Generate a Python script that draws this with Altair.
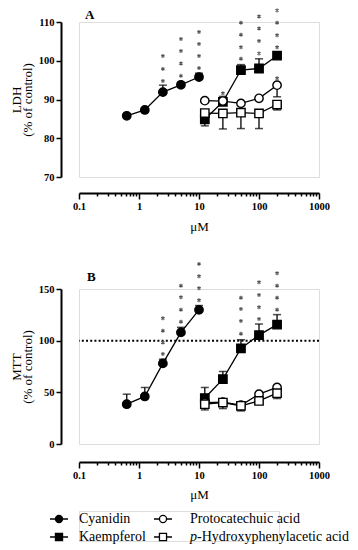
import altair as alt
import pandas as pd

SERIF = "Liberation Serif"

# ---------------- data ----------------
series_names = ["Cyanidin", "Kaempferol", "Protocatechuic acid", "p-Hydroxyphenylacetic acid"]
conc_cy = [0.625, 1.25, 2.5, 5, 10]
conc_ot = [12.5, 25, 50, 100, 200]

# Panel A: LDH (% of control) -- mean and signed SEM (sign = direction drawn)
ldh_cy = [85.8, 87.3, 91.9, 93.8, 95.8]
ldh_cy_err = [0, 0, 1.8, 0.6, 1.0]
ldh_ka = [84.9, 89.4, 97.6, 98.0, 101.3]
ldh_ka_err = [-1.7, 1.4, 1.4, 2.5, 0]
ldh_pc = [89.7, 89.6, 89.0, 90.3, 93.7]
ldh_pc_err = [0, 0, 0, 0, -3.0]
ldh_ph = [86.5, 86.4, 86.6, 86.4, 88.7]
ldh_ph_err = [-2.0, -4.0, -4.1, -3.9, -1.4]

# Panel B: MTT (% of control)
mtt_cy = [38.5, 46.0, 78.0, 108.0, 129.8]
mtt_cy_err = [9.7, 8.7, 4.0, 4.9, 4.2]
mtt_ka = [44.5, 62.8, 92.5, 105.4, 115.5]
mtt_ka_err = [10.2, 7.4, 8.4, 10.7, 9.7]
mtt_pc = [40.1, 40.5, 37.5, 48.2, 54.7]
mtt_pc_err = [0, 0, 0, 0, 0]
mtt_ph = [38.5, 40.1, 37.0, 41.7, 49.2]
mtt_ph_err = [-5.5, -5.8, -5.0, -3.2, -5.2]

# significance asterisks (concentration, y-position in axis units)
stars_a_conc = [2.5, 2.5, 2.5, 5, 5, 5, 5, 10, 10, 10, 10, 25,
                50, 50, 50, 50, 100, 100, 100, 100, 200, 200, 200, 200, 200]
stars_a_y = [94.8, 97.9, 101.2, 96.1, 99.3, 102.5, 105.6, 98.1, 101.2, 104.3, 107.4, 91.6,
             100.5, 103.5, 106.7, 109.8, 101.9, 105.1, 108.3, 111.4, 103.5, 106.6, 109.8, 113.0, 95.5]
stars_b_conc = [2.5, 2.5, 2.5, 2.5, 5, 5, 5, 5, 10, 10, 10, 10,
                50, 50, 50, 50, 100, 100, 100, 100, 200, 200, 200, 200]
stars_b_y = [87.0, 98.3, 109.6, 121.7, 118.3, 130.0, 142.0, 153.2, 139.1, 150.7, 162.4, 174.3,
             106.7, 119.0, 130.6, 141.6, 121.0, 132.3, 144.2, 156.5, 130.0, 141.6, 153.2, 165.3]

x_major = [0.1, 1, 10, 100, 1000]
ldh_ticks = [70, 80, 90, 100, 110]
mtt_ticks = [0, 50, 100, 150]
reference_line = [100]


def build_df(groups):
    rows = []
    for name, concs, vals, errs in groups:
        for c, v, e in zip(concs, vals, errs):
            rows.append({"series": name, "conc": c, "val": v, "err": e, "end": v + e})
    return pd.DataFrame(rows)


df_a = build_df([
    (series_names[0], conc_cy, ldh_cy, ldh_cy_err),
    (series_names[1], conc_ot, ldh_ka, ldh_ka_err),
    (series_names[2], conc_ot, ldh_pc, ldh_pc_err),
    (series_names[3], conc_ot, ldh_ph, ldh_ph_err),
])
df_b = build_df([
    (series_names[0], conc_cy, mtt_cy, mtt_cy_err),
    (series_names[1], conc_ot, mtt_ka, mtt_ka_err),
    (series_names[2], conc_ot, mtt_pc, mtt_pc_err),
    (series_names[3], conc_ot, mtt_ph, mtt_ph_err),
])
stars_a = pd.DataFrame({"conc": stars_a_conc, "y": stars_a_y})
stars_b = pd.DataFrame({"conc": stars_b_conc, "y": stars_b_y})

# ---------------- styling helpers ----------------
x_tick_values = []
for d in [0.1, 1, 10, 100]:
    for m in range(1, 10):
        x_tick_values.append(round(d * m, 6))
x_tick_values.append(1000)
major_test = " || ".join(f"datum.value == {v}" for v in x_major)

ASTERISK = "M0,-1L0,1M-0.87,-0.5L0.87,0.5M-0.87,0.5L0.87,-0.5"


def x_enc(offset, tpad):
    return alt.X(
        "conc:Q",
        scale=alt.Scale(type="log", domain=[0.1, 1000], nice=False),
        axis=alt.Axis(
            values=x_tick_values,
            labelExpr=f"({major_test}) ? format(datum.value, '~g') : ''",
            tickSize={"condition": {"test": major_test, "value": 6}, "value": 3},
            offset=offset, domainWidth=2, tickWidth=1.5,
            domainColor="black", tickColor="black",
            labelFont=SERIF, labelFontSize=10.5, labelFontWeight="bold", labelColor="black",
            labelFlush=False, labelOverlap=False, labelPadding=2,
            title="μM", titleFont=SERIF, titleFontSize=13, titleFontWeight="normal",
            titleColor="black", titlePadding=tpad, grid=False,
        ),
    )


def y_axis(values, title):
    return alt.Axis(
        values=values, offset=18, tickSize=5, domainWidth=2, tickWidth=1.5,
        domainColor="black", tickColor="black",
        labelFont=SERIF, labelFontSize=10.5, labelFontWeight="bold", labelColor="black",
        labelPadding=2, labelOverlap=False, title=title, titleFont=SERIF, titleFontSize=13,
        titleFontWeight="normal", titleColor="black", titleLineHeight=11,
        titlePadding=4, grid=False,
    )


shape_scale = alt.Scale(domain=series_names, range=["circle", "square", "circle", "square"])
fill_scale = alt.Scale(domain=series_names, range=["black", "black", "white", "white"])


def panel(df, stars, domain, ticks, ytitle, letter, letter_dx, letter_dy, xoff, tpad, extra=None):
    x = x_enc(xoff, tpad)
    yscale = alt.Scale(domain=domain, nice=False)
    yax = y_axis(ticks, ytitle)
    y = alt.Y("val:Q", scale=yscale, axis=yax)
    base = alt.Chart(df)
    errdf = base.transform_filter("datum.err != 0")
    rules = errdf.mark_rule(color="black", strokeWidth=1.3).encode(x=x, y=y, y2="end:Q")
    caps = errdf.mark_tick(orient="horizontal", color="black", size=8, thickness=1.5).encode(
        x=x, y=alt.Y("end:Q", scale=yscale, axis=yax))
    lines = base.mark_line(color="black", strokeWidth=1.3).encode(x=x, y=y, detail="series:N")
    pts = base.mark_point(filled=True, stroke="black", strokeWidth=1.4, opacity=1, size=70).encode(
        x=x, y=y,
        shape=alt.Shape("series:N", scale=shape_scale, legend=None),
        fill=alt.Fill("series:N", scale=fill_scale, legend=None),
    )
    st = alt.Chart(stars).mark_point(shape=ASTERISK, size=16, stroke="#555555",
                                     strokeWidth=1.1, filled=False, opacity=1).encode(
        x=x, y=alt.Y("y:Q", scale=yscale, axis=yax))
    lab = alt.Chart(pd.DataFrame({"t": [letter]})).mark_text(
        align="left", baseline="middle", font=SERIF, fontSize=13, fontWeight="bold",
        color="black").encode(x=alt.value(letter_dx), y=alt.value(letter_dy), text="t:N")
    layers = [rules, caps, lines, pts, st, lab]
    if extra is not None:
        layers.insert(0, extra)
    return alt.layer(*layers).properties(width=240, height=155)


dotted = alt.Chart(pd.DataFrame({"ref": reference_line})).mark_rule(
    color="black", strokeWidth=2, strokeDash=[2, 2.2]).encode(y=alt.Y("ref:Q"))

chart_a = panel(df_a, stars_a, [70, 110], ldh_ticks, ["LDH", "(% of control)"], "A", 6, -7.5, 16, 9)
chart_b = panel(df_b, stars_b, [0, 150], mtt_ticks, ["MTT", "(% of control)"], "B", 8, -12.5, 18, 8,
                extra=dotted)

# ---------------- legend panel ----------------
leg_col = [0, 0, 1, 1]
leg_row = [0, 1, 0, 1]
leg_prefix = ["", "", "", "p"]
leg_text = ["Cyanidin", "Kaempferol", "Protocatechuic acid", "-Hydroxyphenylacetic acid"]
sym_x = [-20, 84]
txt_x = [0, 111]
leg = pd.DataFrame({
    "series": series_names,
    "sx": [sym_x[c] for c in leg_col],
    "lx1": [sym_x[c] - 9 for c in leg_col],
    "lx2": [sym_x[c] + 9 for c in leg_col],
    "tx": [txt_x[c] + (7 if p else 0) for c, p in zip(leg_col, leg_prefix)],
    "px": [txt_x[c] for c in leg_col],
    "ty": [8 + 18 * r for r in leg_row],
    "label": leg_text,
    "prefix": leg_prefix,
})
lb = alt.Chart(leg)
l_lines = lb.mark_rule(color="black", strokeWidth=1.5).encode(
    x=alt.X("lx1:Q", scale=None), x2="lx2:Q", y=alt.Y("ty:Q", scale=None))
l_pts = lb.mark_point(filled=True, stroke="black", strokeWidth=1.3, opacity=1, size=50).encode(
    x=alt.X("sx:Q", scale=None), y=alt.Y("ty:Q", scale=None),
    shape=alt.Shape("series:N", scale=shape_scale, legend=None),
    fill=alt.Fill("series:N", scale=fill_scale, legend=None))
l_txt = lb.mark_text(align="left", baseline="middle", font=SERIF, fontSize=14, color="black").encode(
    x=alt.X("tx:Q", scale=None), y=alt.Y("ty:Q", scale=None), text="label:N")
l_pre = lb.transform_filter("datum.prefix != ''").mark_text(
    align="left", baseline="middle", font=SERIF, fontSize=14, fontStyle="italic", color="black").encode(
    x=alt.X("px:Q", scale=None), y=alt.Y("ty:Q", scale=None), text="prefix:N")
legend = alt.layer(l_lines, l_pts, l_txt, l_pre).properties(width=200, height=30)

chart = alt.vconcat(
    chart_a,
    alt.vconcat(chart_b, legend, spacing=8),
    spacing=25,
).properties(
    padding={"top": -3, "left": 1, "right": 0, "bottom": 0}
).configure_view(strokeWidth=0, strokeOpacity=0).configure(background="white")

chart.save("out.html", embed_options={"renderer": "svg", "actions": False})
